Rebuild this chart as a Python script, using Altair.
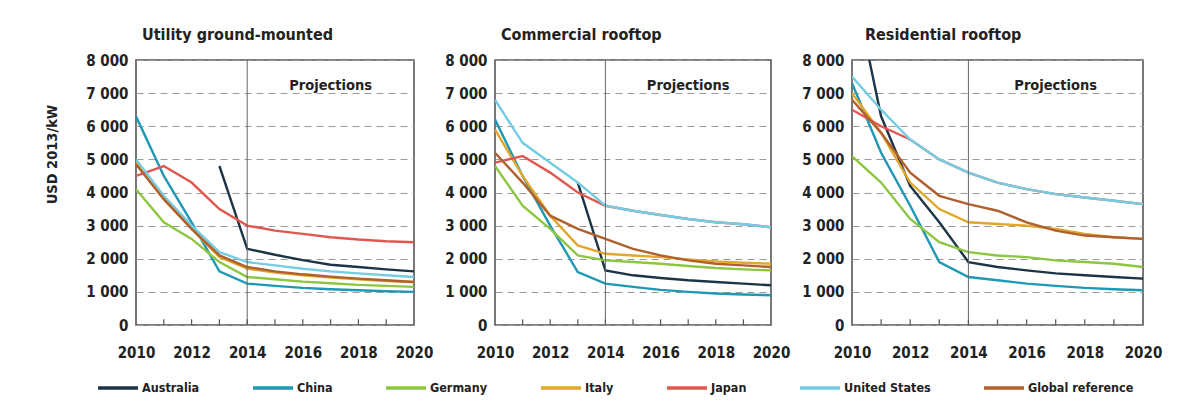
import altair as alt
import pandas as pd

YEARS = [2010, 2011, 2012, 2013, 2014, 2015, 2016, 2017, 2018, 2019, 2020]
COUNTRIES = ["Australia", "China", "Germany", "Italy", "Japan", "United States", "Global reference"]
COLORS = ["#1c3546", "#1e98b4", "#8dc641", "#e2a72a", "#e0574f", "#74cde3", "#b0602c"]
PANELS = ["Utility ground-mounted", "Commercial rooftop", "Residential rooftop"]

# Utility ground-mounted (USD 2013/kW)
UTIL_AUSTRALIA = [None, None, None, 4800, 2300, 2120, 1960, 1820, 1750, 1680, 1620]
UTIL_CHINA = [6300, 4500, 3100, 1620, 1250, 1180, 1120, 1080, 1050, 1020, 1000]
UTIL_GERMANY = [4100, 3100, 2600, 1900, 1450, 1380, 1310, 1260, 1210, 1180, 1150]
UTIL_ITALY = [4900, 3800, 2900, 2050, 1700, 1580, 1500, 1430, 1380, 1330, 1300]
UTIL_JAPAN = [4500, 4800, 4300, 3500, 3000, 2850, 2750, 2650, 2580, 2530, 2500]
UTIL_US = [5000, 3900, 3000, 2200, 1900, 1800, 1700, 1620, 1560, 1500, 1450]
UTIL_GLOBAL = [4850, 3800, 2900, 2100, 1750, 1620, 1530, 1460, 1400, 1350, 1300]

# Commercial rooftop
COMM_AUSTRALIA = [None, None, None, 4300, 1650, 1500, 1420, 1350, 1300, 1250, 1200]
COMM_CHINA = [6200, 4500, 3000, 1600, 1250, 1150, 1060, 1000, 950, 920, 900]
COMM_GERMANY = [4800, 3600, 2900, 2100, 1950, 1900, 1850, 1780, 1720, 1680, 1650]
COMM_ITALY = [5900, 4500, 3300, 2400, 2150, 2100, 2050, 1980, 1920, 1880, 1850]
COMM_JAPAN = [4900, 5100, 4600, 4000, 3600, 3450, 3320, 3200, 3100, 3040, 2950]
COMM_US = [6800, 5500, 4900, 4300, 3600, 3450, 3320, 3200, 3100, 3040, 2950]
COMM_GLOBAL = [5200, 4300, 3300, 2900, 2600, 2300, 2100, 1950, 1850, 1800, 1750]

# Residential rooftop
RESI_AUSTRALIA = [10500, 6300, 4200, 3100, 1900, 1750, 1650, 1560, 1500, 1450, 1400]
RESI_CHINA = [7300, 5200, 3600, 1900, 1450, 1350, 1250, 1180, 1120, 1080, 1050]
RESI_GERMANY = [5100, 4300, 3200, 2500, 2200, 2100, 2050, 1950, 1900, 1850, 1750]
RESI_ITALY = [7000, 5800, 4300, 3500, 3100, 3050, 3000, 2900, 2750, 2650, 2600]
RESI_JAPAN = [6500, 6000, 5600, 5000, 4600, 4300, 4100, 3950, 3850, 3750, 3650]
RESI_US = [7500, 6500, 5600, 5000, 4600, 4300, 4100, 3950, 3850, 3750, 3650]
RESI_GLOBAL = [6800, 5800, 4600, 3900, 3650, 3450, 3100, 2850, 2700, 2650, 2600]

SERIES = {
    PANELS[0]: [UTIL_AUSTRALIA, UTIL_CHINA, UTIL_GERMANY, UTIL_ITALY, UTIL_JAPAN, UTIL_US, UTIL_GLOBAL],
    PANELS[1]: [COMM_AUSTRALIA, COMM_CHINA, COMM_GERMANY, COMM_ITALY, COMM_JAPAN, COMM_US, COMM_GLOBAL],
    PANELS[2]: [RESI_AUSTRALIA, RESI_CHINA, RESI_GERMANY, RESI_ITALY, RESI_JAPAN, RESI_US, RESI_GLOBAL],
}
WIDTHS = [278, 276, 291]
X_LABELS = [2010, 2012, 2014, 2016, 2018, 2020]
Y_TICKS = [0, 1000, 2000, 3000, 4000, 5000, 6000, 7000, 8000]
MINOR_TICK_YEARS = [2011, 2012, 2013, 2014, 2015, 2016, 2017, 2018, 2019]
PROJ_START = 2014

FONT = "Liberation Sans Narrow, DejaVu Sans Condensed, Arial Narrow, sans-serif"

color_scale = alt.Scale(domain=COUNTRIES, range=COLORS)
x_scale = alt.Scale(domain=[2010, 2020], nice=False, zero=False)
y_scale = alt.Scale(domain=[0, 8000], nice=False)


def panel(idx, name):
    rows = []
    for c, vals in zip(COUNTRIES, SERIES[name]):
        for yr, v in zip(YEARS, vals):
            rows.append({"year": yr, "country": c, "value": v, "order": COUNTRIES.index(c)})
    df = pd.DataFrame(rows)

    y_axis = alt.Axis(
        values=Y_TICKS,
        labelExpr="replace(format(datum.value, ','), ',', ' ')",
        labelOverlap=False, labelFlush=False,
        grid=True, gridDash=[7, 5], gridColor="#9a9a9a", gridWidth=1,
        domain=False, ticks=False, labelPadding=8,
        minExtent=48, maxExtent=48,
        title="USD 2013/kW" if idx == 0 else None,
        titleFont=FONT, titleFontSize=14.5, titleFontWeight="bold", titleColor="#222",
        titlePadding=29, titleY=94,
    )
    x_axis = alt.Axis(values=X_LABELS, format="d", grid=False, domain=False, ticks=False,
                      labelOverlap=False, labelFlush=False, labelPadding=20, title=None)

    lines = alt.Chart(df).mark_line(strokeWidth=2.4, clip=True).encode(
        x=alt.X("year:Q", scale=x_scale, axis=x_axis),
        y=alt.Y("value:Q", scale=y_scale, axis=y_axis),
        color=alt.Color("country:N", scale=color_scale, sort=COUNTRIES,
                        legend=alt.Legend(title=None)),
        detail="country:N",
        order=alt.Order("order:Q"),
    )

    tick_df = pd.DataFrame({"year": MINOR_TICK_YEARS, "value": [0] * len(MINOR_TICK_YEARS),
                            "top": [170] * len(MINOR_TICK_YEARS)})
    ticks = alt.Chart(tick_df).mark_rule(color="#555", strokeWidth=1.2).encode(
        x=alt.X("year:Q", scale=x_scale, axis=x_axis),
        y=alt.Y("value:Q", scale=y_scale, axis=y_axis),
        y2="top:Q",
    )
    proj = alt.Chart(pd.DataFrame({"year": [PROJ_START]})).mark_rule(color="#666", strokeWidth=1).encode(
        x=alt.X("year:Q", scale=x_scale, axis=x_axis),
    )
    label = alt.Chart(pd.DataFrame({"year": [2017.0], "value": [7220], "t": ["Projections"]})).mark_text(
        font=FONT, fontSize=14.5, fontWeight="bold", color="#222"
    ).encode(
        x=alt.X("year:Q", scale=x_scale, axis=x_axis),
        y=alt.Y("value:Q", scale=y_scale, axis=y_axis),
        text="t:N",
    )
    return alt.layer(lines, proj, ticks, label).properties(
        width=WIDTHS[idx], height=265,
        title=alt.TitleParams(name, anchor="start", frame="group", dx=6 if idx < 2 else 13,
                              font=FONT, fontSize=16, fontWeight="bold", color="#222",
                              offset=10),
    )


chart = alt.hconcat(*[panel(i, n) for i, n in enumerate(PANELS)], spacing=9).properties(
    padding={"left": 43, "top": 26, "right": 5, "bottom": 2},
    background="white",
).configure_view(
    stroke="#555", strokeWidth=1.6,
).configure_axis(
    labelFont=FONT, labelFontSize=15, labelFontWeight="bold", labelColor="#222",
).configure_legend(
    orient="none", legendX=-40, legendY=306,
    direction="horizontal", columns=7, columnPadding=46,
    symbolType="stroke", symbolSize=1600, symbolStrokeWidth=3.5,
    labelFont=FONT, labelFontSize=12.5, labelFontWeight="bold", labelColor="#222",
    labelOffset=2,
)

chart.save("out.html", embed_options={"renderer": "svg", "actions": False})
